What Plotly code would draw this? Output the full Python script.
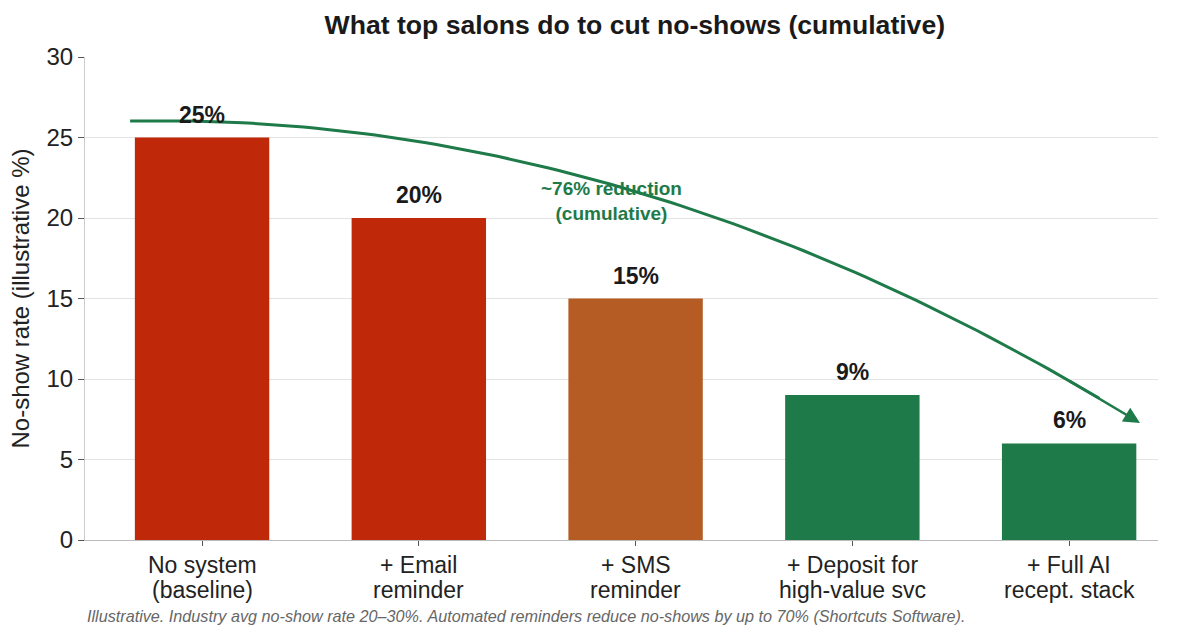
import numpy as np
import plotly.graph_objects as go

categories = ["No system\n(baseline)", "+ Email\nreminder", "+ SMS\nreminder",
              "+ Deposit for\nhigh-value svc", "+ Full AI\nrecept. stack"]
values = [25, 20, 15, 9, 6]
labels = ["25%", "20%", "15%", "9%", "6%"]
colors = ["#C0280A", "#C0280A", "#B55C25", "#1E7A48", "#1E7A48"]
y_ticks = [0, 5, 10, 15, 20, 25, 30]

# arrow (data coordinates: category index, value)
arrow_start = (-0.332, 26.02)
arrow_ctrl = (2.0, 26.65)
arrow_end = (4.327, 7.27)

FONT = "Liberation Sans, Arial, sans-serif"
GREEN = "#1E7A48"

x = list(range(len(categories)))
fig = go.Figure()
fig.add_trace(go.Bar(x=x, y=values, marker=dict(color=colors, line=dict(width=0)),
                     width=0.62, hoverinfo="skip"))

t = np.linspace(0, 1, 100)
bx = (1 - t) ** 2 * arrow_start[0] + 2 * (1 - t) * t * arrow_ctrl[0] + t ** 2 * arrow_end[0]
by = (1 - t) ** 2 * arrow_start[1] + 2 * (1 - t) * t * arrow_ctrl[1] + t ** 2 * arrow_end[1]
fig.add_trace(go.Scatter(x=bx[:-4], y=by[:-4], mode="lines", line=dict(color=GREEN, width=3),
                         hoverinfo="skip"))
fig.add_annotation(x=arrow_end[0], y=arrow_end[1], ax=bx[-8], ay=by[-8], xref="x", yref="y",
                   axref="x", ayref="y", showarrow=True, arrowhead=2, arrowsize=1.3,
                   arrowwidth=2.5, arrowcolor=GREEN, text="")

for xi, v, lab in zip(x, values, labels):
    fig.add_annotation(x=xi, y=v, text=f"<b>{lab}</b>", showarrow=False, yanchor="bottom",
                       yshift=8, font=dict(family=FONT, size=23, color="#1a1a1a"))

# category labels (two lines, tighter spacing than plotly's default)
for xi, cat in zip(x, categories):
    for k, line in enumerate(cat.split("\n")):
        fig.add_annotation(x=xi, y=0, xref="x", yref="paper", yanchor="middle", yshift=-25 - 25 * k,
                           text=line, showarrow=False, font=dict(family=FONT, size=23, color="#222222"))

fig.add_annotation(x=1.89, y=21.05, text="<b>~76% reduction<br>(cumulative)</b>", showarrow=False,
                   font=dict(family=FONT, size=19, color=GREEN), xanchor="center", yanchor="middle")

fig.add_annotation(x=0.0, y=-0.158, xref="paper", yref="paper", xanchor="left", yanchor="middle",
                   xshift=0, showarrow=False,
                   text="<i>Illustrative. Industry avg no-show rate 20–30%. Automated reminders reduce no-shows by up to 70% (Shortcuts Software).</i>",
                   font=dict(family=FONT, size=16.2, color="#666666"))

fig.update_layout(
    width=1200, height=640,
    margin=dict(l=85, r=42, t=57, b=100),
    paper_bgcolor="white", plot_bgcolor="white",
    showlegend=False,
    bargap=0.38,
    title=dict(text="<b>What top salons do to cut no-shows (cumulative)</b>", x=0.529, xanchor="center",
               y=0.962, yanchor="middle", font=dict(family=FONT, size=26.6, color="#1a1a1a")),
    font=dict(family=FONT, color="#222222"),
)
fig.update_xaxes(range=[-0.54, 4.41], tickvals=x, ticktext=[""] * len(x), showgrid=False,
                 showline=True, linecolor="#bbbbbb", linewidth=1.2, ticks="outside", ticklen=5,
                 tickcolor="#555555", zeroline=False)
fig.update_yaxes(range=[0, 30], tickvals=y_ticks, showgrid=True, gridcolor="#e3e3e3", gridwidth=1,
                 showline=True, linecolor="#cccccc", linewidth=1.2, ticks="outside", ticklen=6,
                 tickcolor="#555555", tickfont=dict(family=FONT, size=24, color="#222222"), zeroline=False,
                 title=dict(text="No-show rate (illustrative %)", font=dict(family=FONT, size=24, color="#222222"),
                            standoff=9))

fig.write_html("out.html")
